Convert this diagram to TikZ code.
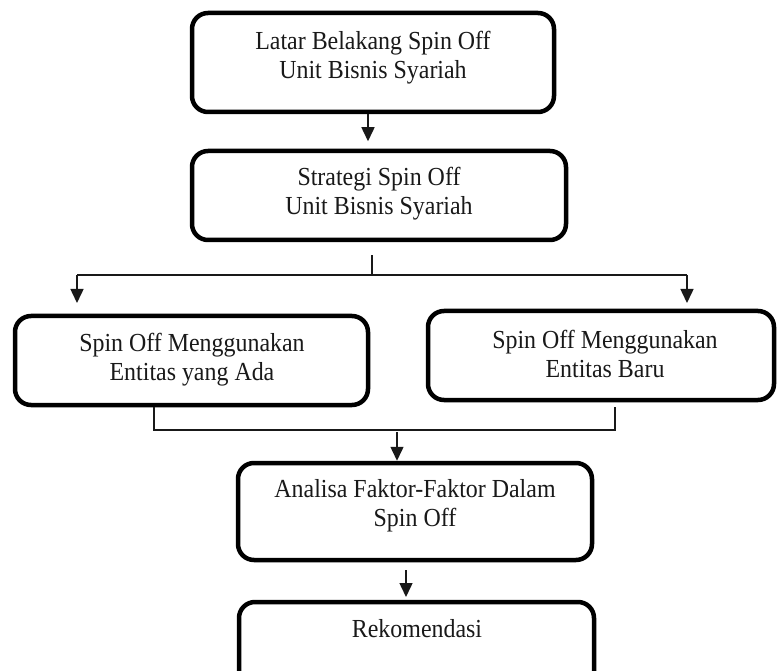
\documentclass[tikz,border=0pt]{standalone}
\usepackage{fontspec}
\setmainfont[FakeStretch=0.92]{Liberation Serif}
\usetikzlibrary{arrows.meta}
\begin{document}
\begin{tikzpicture}[x=1pt,y=-1pt,
  box/.style={draw=black,line width=4.5pt,rounded corners=16pt,inner sep=0pt},
  txt/.style={align=center,font=\fontsize{26}{29}\selectfont,text=black!90,inner sep=0pt},
  conn/.style={draw=black!90,line width=1.5pt},
  arr/.style={conn,-{Triangle[width=13pt,length=14pt]}}]
\clip (0,0) rectangle (777,671);
\fill[white] (0,0) rectangle (777,671);
% boxes
\node[box,minimum width=362pt,minimum height=99pt] (b1) at (373,62.5) {};
\node[box,minimum width=374pt,minimum height=89pt] (b2) at (379,195.5) {};
\node[box,minimum width=353pt,minimum height=89pt] (b3) at (191.5,360.5) {};
\node[box,minimum width=346pt,minimum height=89pt] (b4) at (601,355.5) {};
\node[box,minimum width=354pt,minimum height=97pt] (b5) at (415,511.5) {};
\node[box,minimum width=355pt,minimum height=98pt] (b6) at (416.5,651) {};
% texts
\node[txt] (t1) at (373,57.5) {Latar Belakang Spin Off\\Unit Bisnis Syariah};
\node[txt] (t2) at (379,194) {Strategi Spin Off\\Unit Bisnis Syariah};
\node[txt] (t3) at (192,360) {Spin Off Menggunakan\\Entitas yang Ada};
\node[txt] (t4) at (605,354) {Spin Off Menggunakan\\Entitas Baru};
\node[txt] (t5) at (415,506) {Analisa Faktor-Faktor Dalam\\Spin Off};
\node[txt] (t6) at (417,629) {Rekomendasi};
% helper coordinates
\coordinate (xl) at (77,0);
\coordinate (xr) at (687,0);
\coordinate (xa) at (154,0);
\coordinate (xb) at (615,0);
\coordinate (js) at (372,275);
\coordinate (jl) at (77,275);
\coordinate (jr) at (687,275);
\coordinate (m) at (397,430);
% connectors
\draw[arr] ([xshift=-5pt]b1.south) -- ++(0,27);
\draw[conn] ([xshift=-7pt,yshift=-13pt]b2.south) -- (js);
\draw[conn] (jl) -- (jr);
\draw[arr,shorten >=10.75pt] (jl) -- (jl |- b3.north);
\draw[arr,shorten >=5.75pt] (jr) -- (jr |- b4.north);
\draw[conn] (b3.south -| xa) -- (xa |- m) -- (xb |- m) -- ([yshift=-5pt]b4.south -| xb);
\draw[arr] ([yshift=-2pt]m) -- (m |- b5.north);
\draw[arr,shorten >=2.75pt] ([xshift=-9pt,yshift=-8pt]b5.south) -- ([xshift=-10.5pt]b6.north);
\end{tikzpicture}
\end{document}
